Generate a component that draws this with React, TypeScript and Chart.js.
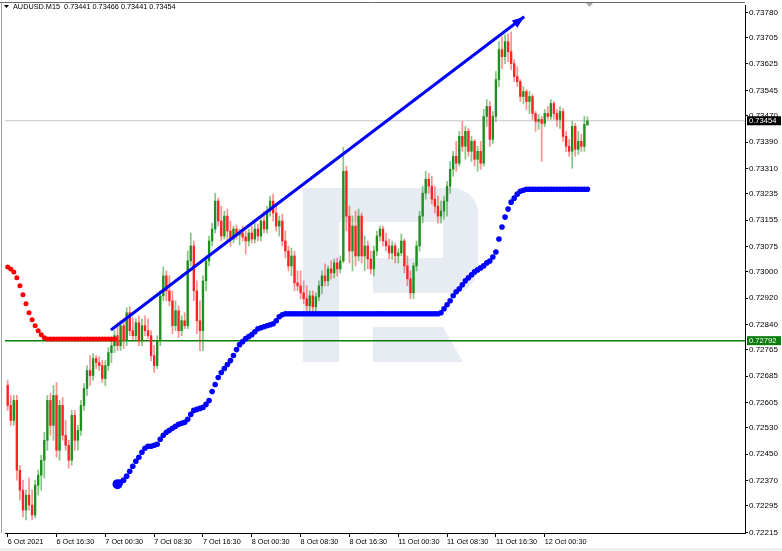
import React, { useEffect, useRef } from "react";
import { Chart, registerables } from "chart.js";

Chart.register(...registerables);

const SYMBOL = "AUDUSD.M15";

const X_TICK_BARS = [0, 16, 32, 48, 64, 80, 96, 112, 128, 144, 160, 176];
const X_TICK_LABELS = [
  "6 Oct 2021", "6 Oct 16:30", "7 Oct 00:30", "7 Oct 08:30", "7 Oct 16:30", "8 Oct 00:30",
  "8 Oct 08:30", "8 Oct 16:30", "11 Oct 00:30", "11 Oct 08:30", "11 Oct 16:30", "12 Oct 00:30",
];
const Y_TICKS = [
  0.7378, 0.73705, 0.73625, 0.73545, 0.7347, 0.7339, 0.7331, 0.73235, 0.73155, 0.73075, 0.73,
  0.7292, 0.7284, 0.72765, 0.72685, 0.72605, 0.7253, 0.7245, 0.7237, 0.72295, 0.72215,
];

const OPEN = [
  .72657, .72597, .72552, .72612, .72402, .72342, .72282, .72327, .72297, .72267,
  .72357, .72387, .72432, .72492, .72612, .72537, .72627, .72462, .72597, .72507,
  .72477, .72432, .72567, .72492, .72522, .72597, .72648, .72702, .72687, .72738,
  .72726, .72717, .72678, .72717, .72756, .72777, .72807, .72777, .72837, .72792,
  .72876, .72822, .72807, .72846, .72792, .72837, .72822, .72807, .72747, .72717,
  .72792, .72927, .72987, .72942, .72912, .72837, .72882, .72822, .72852, .72837,
  .73032, .73077, .72942, .72852, .72822, .72972, .73032, .73092, .73128, .73212,
  .73152, .73107, .73167, .73122, .73098, .73128, .73110, .73116, .73104, .73092,
  .73116, .73098, .73128, .73107, .73152, .73128, .73182, .73212, .73176, .73137,
  .73152, .73092, .73062, .73017, .73047, .72966, .72957, .72936, .72918, .72897,
  .72927, .72894, .72924, .72957, .72987, .72972, .73008, .72996, .73026, .73008,
  .73032, .73302, .73167, .73062, .73137, .73047, .73167, .73047, .73077, .73038,
  .73008, .73062, .73107, .73128, .73092, .73077, .73056, .73077, .73047, .73056,
  .73092, .73017, .72978, .72936, .73017, .73077, .73167, .73236, .73278, .73257,
  .73218, .73197, .73167, .73182, .73212, .73257, .73308, .73347, .73326, .73407,
  .73377, .73422, .73362, .73392, .73338, .73362, .73326, .73467, .73497, .73398,
  .73467, .73578, .73668, .73647, .73692, .73662, .73626, .73587, .73572, .73527,
  .73542, .73512, .73527, .73476, .73452, .73458, .73446, .73476, .73467, .73506,
  .73476, .73458, .73482, .73407, .73377, .73362, .73437, .73368, .73392, .73377,
  .73441,
];
const HIGH = [
  .72672, .72627, .72627, .72627, .72417, .72372, .72342, .72378, .72342, .72372,
  .72402, .72447, .72516, .72627, .72633, .72657, .72666, .72612, .72621, .72552,
  .72492, .72582, .72582, .72537, .72612, .72663, .72717, .72747, .72753, .72747,
  .72744, .72732, .72732, .72771, .72792, .72822, .72846, .72852, .72858, .72891,
  .72894, .72861, .72858, .72867, .72858, .72867, .72858, .72822, .72777, .72807,
  .72942, .73014, .73002, .72987, .72942, .72912, .72897, .72867, .72876, .73062,
  .73116, .73092, .72972, .72912, .72987, .73047, .73107, .73146, .73236, .73221,
  .73197, .73182, .73188, .73152, .73137, .73140, .73128, .73137, .73122, .73128,
  .73137, .73146, .73143, .73167, .73182, .73197, .73227, .73233, .73206, .73167,
  .73173, .73122, .73077, .73071, .73062, .73002, .73002, .72972, .72957, .72942,
  .72942, .72936, .72972, .73002, .73023, .73017, .73032, .73038, .73041, .73047,
  .73374, .73317, .73197, .73167, .73182, .73188, .73176, .73107, .73092, .73062,
  .73077, .73122, .73137, .73137, .73116, .73098, .73092, .73086, .73068, .73113,
  .73098, .73047, .73002, .73026, .73092, .73182, .73257, .73302, .73296, .73287,
  .73257, .73227, .73212, .73227, .73272, .73332, .73362, .73392, .73422, .73452,
  .73437, .73431, .73407, .73398, .73377, .73392, .73488, .73518, .73512, .73482,
  .73602, .73692, .73707, .73713, .73716, .73722, .73638, .73617, .73578, .73557,
  .73548, .73542, .73533, .73482, .73473, .73467, .73488, .73497, .73518, .73512,
  .73488, .73497, .73491, .73422, .73398, .73452, .73446, .73422, .73413, .73467,
  .73466,
];
const LOW = [
  .72582, .72537, .72537, .72372, .72312, .72261, .72252, .72282, .72252, .72258,
  .72327, .72342, .72378, .72462, .72507, .72492, .72441, .72432, .72492, .72462,
  .72408, .72417, .72462, .72462, .72507, .72582, .72627, .72657, .72672, .72708,
  .72702, .72666, .72657, .72702, .72726, .72756, .72762, .72762, .72768, .72777,
  .72807, .72792, .72792, .72777, .72777, .72807, .72798, .72732, .72696, .72708,
  .72777, .72912, .72912, .72897, .72813, .72822, .72801, .72807, .72828, .72828,
  .73017, .72912, .72813, .72762, .72762, .72942, .73017, .73077, .73116, .73137,
  .73092, .73098, .73092, .73077, .73086, .73098, .73080, .73092, .73053, .73077,
  .73086, .73086, .73092, .73092, .73116, .73116, .73167, .73152, .73122, .73107,
  .73077, .73041, .73002, .72987, .72942, .72942, .72918, .72903, .72882, .72876,
  .72876, .72882, .72912, .72933, .72957, .72957, .72978, .72981, .72987, .72996,
  .73026, .73122, .73026, .73002, .73017, .73032, .73026, .73002, .73008, .72993,
  .72987, .73047, .73092, .73077, .73062, .73038, .73038, .73026, .73026, .73047,
  .72996, .72957, .72918, .72918, .73002, .73062, .73146, .73218, .73236, .73203,
  .73176, .73146, .73146, .73158, .73167, .73236, .73287, .73302, .73317, .73362,
  .73338, .73347, .73332, .73317, .73302, .73308, .73317, .73437, .73377, .73386,
  .73452, .73557, .73611, .73626, .73632, .73608, .73572, .73557, .73512, .73506,
  .73488, .73476, .73458, .73422, .73428, .73332, .73437, .73458, .73458, .73458,
  .73437, .73431, .73392, .73362, .73347, .73311, .73347, .73353, .73362, .73362,
  .73441,
];
const CLOSE = [
  .72597, .72552, .72612, .72402, .72342, .72282, .72327, .72297, .72267, .72357,
  .72387, .72432, .72492, .72612, .72537, .72627, .72462, .72597, .72507, .72477,
  .72432, .72567, .72492, .72522, .72597, .72648, .72702, .72687, .72738, .72726,
  .72717, .72678, .72717, .72756, .72777, .72807, .72777, .72837, .72792, .72876,
  .72822, .72807, .72846, .72792, .72837, .72822, .72807, .72747, .72717, .72792,
  .72927, .72987, .72942, .72912, .72837, .72882, .72822, .72852, .72837, .73032,
  .73077, .72942, .72852, .72822, .72972, .73032, .73092, .73128, .73212, .73152,
  .73107, .73167, .73122, .73098, .73128, .73110, .73116, .73104, .73092, .73116,
  .73098, .73128, .73107, .73152, .73128, .73182, .73212, .73176, .73137, .73152,
  .73092, .73062, .73017, .73047, .72966, .72957, .72936, .72918, .72897, .72927,
  .72894, .72924, .72957, .72987, .72972, .73008, .72996, .73026, .73008, .73032,
  .73302, .73167, .73062, .73137, .73047, .73167, .73047, .73077, .73038, .73008,
  .73062, .73107, .73128, .73092, .73077, .73056, .73077, .73047, .73056, .73092,
  .73017, .72978, .72936, .73017, .73077, .73167, .73236, .73278, .73257, .73218,
  .73197, .73167, .73182, .73212, .73257, .73308, .73347, .73326, .73407, .73377,
  .73422, .73362, .73392, .73338, .73362, .73326, .73467, .73497, .73398, .73467,
  .73578, .73668, .73647, .73692, .73662, .73626, .73587, .73572, .73527, .73542,
  .73512, .73527, .73476, .73452, .73458, .73446, .73476, .73467, .73506, .73476,
  .73458, .73482, .73407, .73377, .73362, .73437, .73368, .73392, .73377, .73443,
  .73454,
];

// red dotted indicator, bars 0..35
const RED_DOTS = [
  .73014, .73008, .72999, .72981, .72957, .72930, .72903, .72876, .72855, .72837,
  .72822, .72810, .72801, .72797, .72797, .72797, .72797, .72797, .72797, .72797,
  .72797, .72797, .72797, .72797, .72797, .72797, .72797, .72797, .72797, .72797,
  .72797, .72797, .72797, .72797, .72797, .72797,
];
// blue dotted indicator, from bar 36 to 190
const BLUE_START = 36;
const BLUE_DOTS = [
  .72360, .72366, .72372, .72384, .72399, .72414, .72429, .72441, .72456, .72468,
  .72474, .72474, .72477, .72480, .72495, .72507, .72516, .72522, .72528, .72534,
  .72540, .72543, .72546, .72555, .72570, .72582, .72585, .72588, .72591, .72600,
  .72612, .72639, .72660, .72681, .72696, .72708, .72720, .72732, .72747, .72765,
  .72780, .72789, .72798, .72804, .72810, .72819, .72828, .72831, .72834, .72837,
  .72840, .72843, .72852, .72864, .72870,
  .72873, .72873, .72873, .72873, .72873, .72873, .72873, .72873, .72873, .72873,
  .72873, .72873, .72873, .72873, .72873, .72873, .72873, .72873, .72873, .72873,
  .72873, .72873, .72873, .72873, .72873, .72873, .72873, .72873, .72873, .72873,
  .72873, .72873, .72873, .72873, .72873, .72873, .72873, .72873, .72873, .72873,
  .72873, .72873, .72873, .72873, .72873, .72873, .72873, .72873, .72873, .72873,
  .72873,
  .72876, .72888, .72900, .72912, .72927, .72939, .72948, .72960, .72972, .72981,
  .72990, .72999, .73005, .73011, .73017, .73026, .73032, .73044, .73059, .73098,
  .73134, .73164, .73188, .73209, .73221, .73233, .73242, .73245,
  .73248, .73248, .73248, .73248, .73248, .73248, .73248, .73248, .73248, .73248,
  .73248, .73248, .73248, .73248, .73248, .73248, .73248, .73248, .73248, .73248,
  .73248,
];

const TREND_BARS = [33.85, 169.27];
const TREND_PRICES = [0.72824, 0.73767];

const BID_PRICE = 0.73454;
const LEVEL_PRICE = 0.72792;

const Y_MIN = 0.722129;
const Y_MAX = 0.738025;
const X_MIN = -0.879;
const X_MAX = 241.64;

const FONT = '"Liberation Sans", Arial, sans-serif';

export default function App() {
  const ref = useRef<HTMLCanvasElement>(null);

  useEffect(() => {
    const canvas = ref.current;
    if (!canvas) return;
    const bars = CLOSE.map((_, i) => i);
    const up = bars.map((i) => CLOSE[i] >= OPEN[i]);

    const decor = {
      id: "decor",
      beforeDraw(chart: any) {
        const ctx = chart.ctx;
        ctx.save();
        ctx.fillStyle = "#ffffff";
        ctx.fillRect(0, 0, chart.width, chart.height);
        ctx.fillStyle = "#f0f0f0";
        ctx.fillRect(0, 548, chart.width, 3);
        ctx.restore();
      },
      beforeDatasetsDraw(chart: any) {
        const ctx = chart.ctx;
        const a = chart.chartArea;
        ctx.save();
        ctx.beginPath();
        ctx.rect(a.left, a.top, a.right - a.left, a.bottom - a.top);
        ctx.clip();
        ctx.fillStyle = "#e7ecf3";
        ctx.fillRect(303, 188, 36, 174);
        const r = 26;
        ctx.beginPath();
        ctx.moveTo(339, 188);
        ctx.lineTo(478 - r, 188);
        ctx.arcTo(478, 188, 478, 188 + r, r);
        ctx.lineTo(478, 293 - r);
        ctx.arcTo(478, 293, 478 - r, 293, r);
        ctx.lineTo(373, 293);
        ctx.lineTo(373, 258);
        ctx.lineTo(443, 258);
        ctx.lineTo(443, 222);
        ctx.lineTo(339, 222);
        ctx.closePath();
        ctx.fill();
        ctx.beginPath();
        ctx.moveTo(373, 327);
        ctx.lineTo(443, 327);
        ctx.lineTo(463, 362);
        ctx.lineTo(373, 362);
        ctx.closePath();
        ctx.fill();
        ctx.restore();
      },
      afterDatasetsDraw(chart: any) {
        const ctx = chart.ctx;
        const xs = chart.scales.x;
        const ys = chart.scales.y;
        const x0 = xs.getPixelForValue(TREND_BARS[0]);
        const y0 = ys.getPixelForValue(TREND_PRICES[0]);
        const x1 = xs.getPixelForValue(TREND_BARS[1]);
        const y1 = ys.getPixelForValue(TREND_PRICES[1]);
        const ang = Math.atan2(y1 - y0, x1 - x0);
        const L = 12;
        const W = 4.5;
        const bx = x1 - L * Math.cos(ang);
        const by = y1 - L * Math.sin(ang);
        ctx.save();
        ctx.fillStyle = "#0000ff";
        ctx.beginPath();
        ctx.moveTo(x1, y1);
        ctx.lineTo(bx - W * Math.sin(ang), by + W * Math.cos(ang));
        ctx.lineTo(bx + W * Math.sin(ang), by - W * Math.cos(ang));
        ctx.closePath();
        ctx.fill();
        ctx.restore();
      },
      afterDraw(chart: any) {
        const ctx = chart.ctx;
        const a = chart.chartArea;
        const ys = chart.scales.y;
        ctx.save();
        // frame
        ctx.lineWidth = 1;
        ctx.strokeStyle = "#6a6a6a";
        ctx.beginPath();
        ctx.moveTo(0, 2.5);
        ctx.lineTo(a.right, 2.5);
        ctx.stroke();
        ctx.strokeStyle = "#a0a0a0";
        ctx.beginPath();
        ctx.moveTo(1.5, 2.5);
        ctx.lineTo(1.5, a.bottom);
        ctx.stroke();
        // chart shift marker
        ctx.fillStyle = "#a8a8a8";
        ctx.beginPath();
        ctx.moveTo(586, 3);
        ctx.lineTo(593, 3);
        ctx.lineTo(589.5, 7);
        ctx.closePath();
        ctx.fill();
        // header
        const n = CLOSE.length - 1;
        ctx.fillStyle = "#000";
        ctx.beginPath();
        ctx.moveTo(4, 5);
        ctx.lineTo(9, 5);
        ctx.lineTo(6.5, 8);
        ctx.closePath();
        ctx.fill();
        ctx.font = `7.3px ${FONT}`;
        ctx.textBaseline = "middle";
        ctx.textAlign = "left";
        ctx.fillText(
          `${SYMBOL}  ${OPEN[n].toFixed(5)} ${HIGH[n].toFixed(5)} ${LOW[n].toFixed(5)} ${CLOSE[n].toFixed(5)}`,
          13,
          7
        );
        // price boxes
        const boxes = [
          { v: BID_PRICE, bg: "#000000" },
          { v: LEVEL_PRICE, bg: "#0a7d0a" },
        ];
        ctx.font = `7.6px ${FONT}`;
        for (const b of boxes) {
          const y = ys.getPixelForValue(b.v);
          ctx.fillStyle = b.bg;
          ctx.fillRect(a.right + 2, y - 4.5, 34, 9);
          ctx.fillStyle = "#ffffff";
          ctx.fillText(b.v.toFixed(5), a.right + 4, y + 0.5);
        }
        ctx.restore();
      },
    };

    const chart = new Chart(canvas, {
      type: "bar",
      data: {
        datasets: [
          {
            type: "line",
            data: [
              { x: X_MIN, y: BID_PRICE },
              { x: X_MAX, y: BID_PRICE },
            ],
            borderColor: "#c4c4c4",
            borderWidth: 1,
            pointRadius: 0,
            order: 10,
          },
          {
            type: "line",
            data: [
              { x: X_MIN, y: LEVEL_PRICE },
              { x: X_MAX, y: LEVEL_PRICE },
            ],
            borderColor: "#0a7d0a",
            borderWidth: 1.5,
            pointRadius: 0,
            order: 9,
          },
          {
            type: "bar",
            data: bars.map((i) => ({ x: i, y: [LOW[i], HIGH[i]] })),
            backgroundColor: up.map((u) => (u ? "rgba(30,150,30,0.55)" : "rgba(255,50,50,0.55)")),
            borderWidth: 0,
            barThickness: 1,
            grouped: false,
            order: 8,
          },
          {
            type: "bar",
            data: bars.map((i) => ({ x: i, y: [OPEN[i], CLOSE[i]] })),
            backgroundColor: up.map((u) => (u ? "#1f8f1f" : "#ff2222")),
            borderWidth: 0,
            barThickness: 1.7,
            grouped: false,
            order: 7,
          },
          {
            type: "line",
            data: RED_DOTS.map((v, i) => ({ x: i, y: v })),
            showLine: false,
            pointRadius: 2.5,
            pointBackgroundColor: "#ff0000",
            pointBorderWidth: 0,
            order: 5,
          },
          {
            type: "line",
            data: BLUE_DOTS.map((v, k) => ({ x: BLUE_START + k, y: v })),
            showLine: false,
            pointRadius: BLUE_DOTS.map((_, k) => (k === 0 ? 5 : 2.8)),
            pointBackgroundColor: "#0000ff",
            pointBorderWidth: 0,
            order: 4,
          },
          {
            type: "line",
            data: TREND_BARS.map((b, k) => ({ x: b, y: TREND_PRICES[k] })),
            borderColor: "#0000ff",
            borderWidth: 3,
            pointRadius: 0,
            order: 3,
          },
        ],
      } as any,
      options: {
        animation: false,
        responsive: false,
        devicePixelRatio: 1,
        events: [],
        layout: { padding: { top: 3, left: 0, right: 0, bottom: 0 } },
        plugins: { legend: { display: false }, tooltip: { enabled: false } },
        scales: {
          x: {
            type: "linear",
            min: X_MIN,
            max: X_MAX,
            offset: false,
            afterBuildTicks: (s: any) => {
              s.ticks = X_TICK_BARS.map((v) => ({ value: v }));
            },
            afterFit: (s: any) => {
              s.height = 18;
              s.paddingLeft = 0;
              s.paddingRight = 0;
            },
            ticks: {
              autoSkip: false,
              maxRotation: 0,
              minRotation: 0,
              align: "start",
              padding: 1,
              color: "#000",
              font: { family: FONT, size: 7.3 },
              callback: (_v: any, i: number) => X_TICK_LABELS[i],
            },
            grid: { drawOnChartArea: false, drawTicks: true, tickLength: 4, color: "#000", offset: false },
            border: { display: true, color: "#000" },
          },
          y: {
            type: "linear",
            position: "right",
            min: Y_MIN,
            max: Y_MAX,
            afterBuildTicks: (s: any) => {
              s.ticks = Y_TICKS.map((v) => ({ value: v }));
            },
            afterFit: (s: any) => {
              s.width = 37;
              s.paddingTop = 0;
              s.paddingBottom = 0;
            },
            ticks: {
              autoSkip: false,
              padding: 1,
              color: "#000",
              font: { family: FONT, size: 8 },
              callback: (v: any) => Number(v).toFixed(5),
            },
            grid: { drawOnChartArea: false, drawTicks: true, tickLength: 3, color: "#000" },
            border: { display: true, color: "#000" },
          },
        },
      } as any,
      plugins: [decor],
    });

    return () => chart.destroy();
  }, []);

  return (
    <div style={{ position: "fixed", left: 0, top: 0, width: 782, height: 551, background: "#fff" }}>
      <canvas ref={ref} width={782} height={551} style={{ display: "block", width: 782, height: 551 }} />
    </div>
  );
}
